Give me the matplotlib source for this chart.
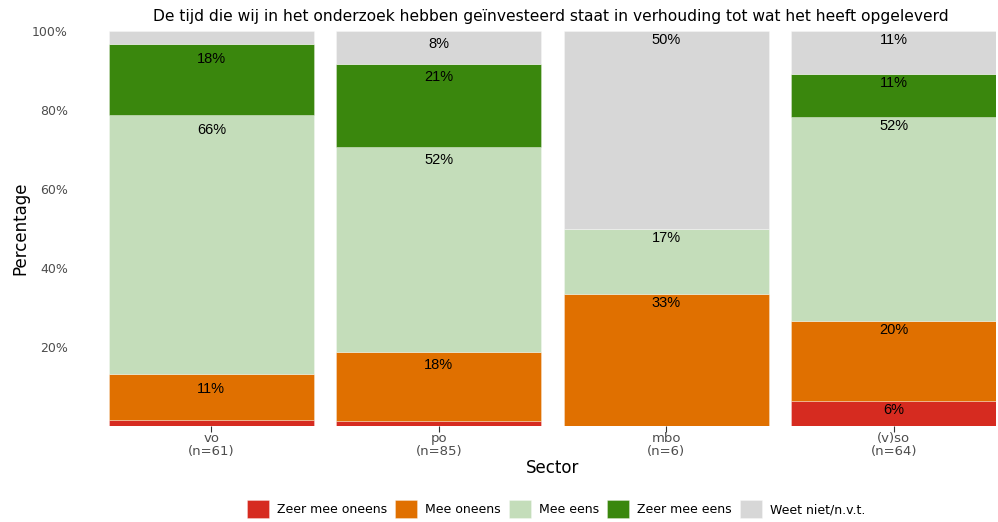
import numpy as np
import matplotlib.pyplot as plt

sectors = ["vo", "po", "mbo", "(v)so"]
n_resp = [61, 85, 6, 64]
answers = ["Zeer mee oneens", "Mee oneens", "Mee eens", "Zeer mee eens", "Weet niet/n.v.t."]
colors = ["#D62B20", "#E07000", "#C4DDBA", "#3A870D", "#D7D7D7"]

# answer counts per sector, in the order of `answers`
counts_vo = [1, 7, 40, 11, 2]
counts_po = [1, 15, 44, 18, 7]
counts_mbo = [0, 2, 1, 0, 3]
counts_vso = [4, 13, 33, 7, 7]

counts = np.array([counts_vo, counts_po, counts_mbo, counts_vso], dtype=float)
pct = counts / np.array(n_resp)[:, None] * 100

# how far (points) below the segment top each bar's labels sit
label_drop = [-11, -9.4, -6.5, -6.5]

W, H = 998, 522
fig = plt.figure(figsize=(W / 100, H / 100), dpi=100)
# panel spans the bars exactly
ax = fig.add_axes([109 / W, 1 - 426 / H, (996 - 109) / W, (426 - 31) / H])

x = np.arange(1, len(sectors) + 1)
bottom = np.zeros(len(sectors))
for j, (name, col) in enumerate(zip(answers, colors)):
    vals = pct[:, j]
    ax.bar(x, vals, width=0.9, bottom=bottom, color=col, label=name,
           edgecolor=(1, 1, 1, 0.35), linewidth=0.6)
    for xi, b, v, dy in zip(x, bottom, vals, label_drop):
        if v >= 5:
            ax.annotate(f"{v:.0f}%", xy=(xi, b + v), xytext=(0, dy),
                        textcoords="offset points", ha="center", va="center",
                        fontsize=10.5, family="Liberation Sans", color="black")
    bottom += vals

ax.set_xlim(0.55, 4.45)
ax.set_ylim(0, 100)
for s in ax.spines.values():
    s.set_visible(False)

gray = "#4D4D4D"
ax.set_yticks([20, 40, 60, 80, 100])
ax.set_yticklabels([f"{t}%" for t in [20, 40, 60, 80, 100]])
ax.tick_params(axis="y", length=0, pad=29.5, labelsize=9, labelcolor=gray)
ax.set_xticks(x)
ax.set_xticklabels([f"{s}\n(n={n})" for s, n in zip(sectors, n_resp)],
                   linespacing=1.05)
ax.tick_params(axis="x", length=4, width=0.8, color="#333333", pad=0,
               labelsize=9.5, labelcolor=gray)

ax.set_xlabel("Sector", fontsize=12, labelpad=1)
ax.set_ylabel("Percentage", fontsize=12)
ax.yaxis.set_label_coords(-80 / (996 - 109), 0.5)
fig.text(551 / W, 1 - 17 / H,
         "De tijd die wij in het onderzoek hebben geïnvesteerd staat in verhouding tot wat het heeft opgeleverd",
         ha="center", va="center", fontsize=11.2)

handles, labels = ax.get_legend_handles_labels()
fig.legend(handles, labels, loc="center", bbox_to_anchor=(556 / W, 1 - 509 / H),
           ncol=5, frameon=False, fontsize=9, handlelength=1.76, handleheight=1.76,
           handletextpad=0.64, columnspacing=0.64)

fig.savefig("out.png", dpi=100)
